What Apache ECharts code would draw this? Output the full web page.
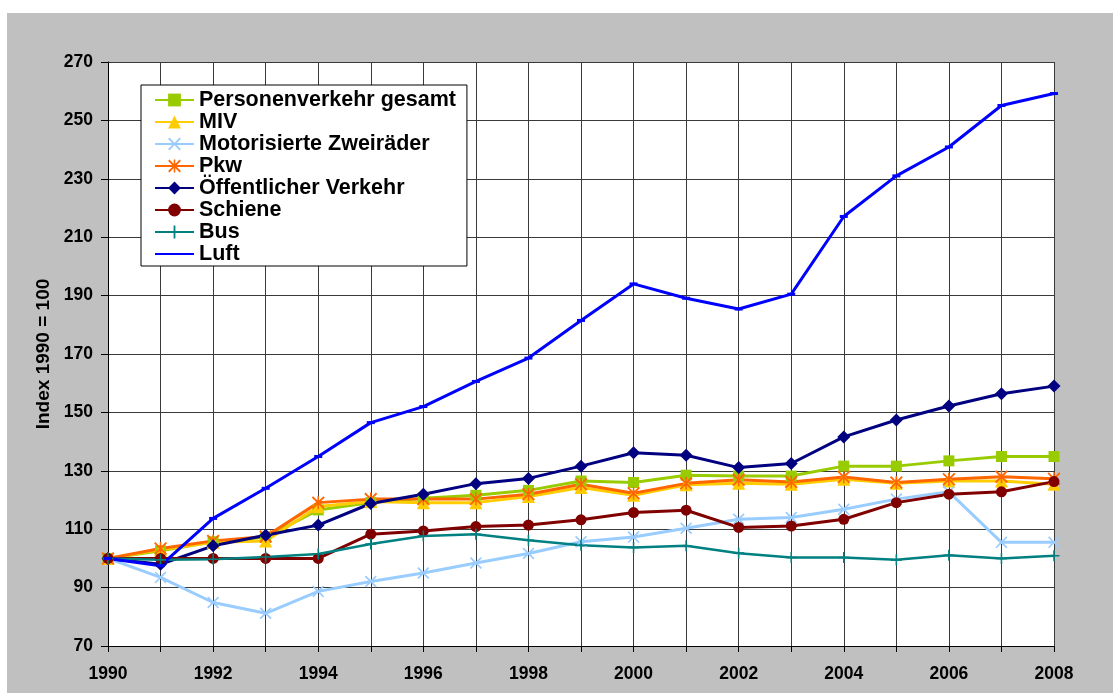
<!DOCTYPE html>
<html>
<head>
<meta charset="utf-8">
<script src="https://cdn.jsdelivr.net/npm/echarts@6/dist/echarts.min.js"></script>
<style>
  html, body { margin: 0; padding: 0; background: #ffffff; }
  #frame { position: absolute; left: 7px; top: 13px; right: 0; bottom: 0; background: #c0c0c0; }
  #chart { position: absolute; left: 0; top: 0; width: 1113px; height: 693px; }
</style>
</head>
<body>
<div id="frame"></div>
<div id="chart"></div>
<script>
// Verkehrsleistung nach Verkehrsträgern, Index 1990 = 100
const years = ['1990','1991','1992','1993','1994','1995','1996','1997','1998','1999',
               '2000','2001','2002','2003','2004','2005','2006','2007','2008'];

const personenverkehrGesamt = [100, 102.6, 105.7, 107.2, 116.6, 119.1, 120.6, 121.6, 123.3, 126.5, 126.0, 128.5, 128.2, 128.2, 131.6, 131.6, 133.4, 134.9, 134.9];
const miv                  = [100, 103.0, 105.5, 106.0, 117.8, 119.5, 119.1, 119.1, 121.2, 124.3, 121.6, 125.2, 125.7, 125.4, 127.1, 125.7, 126.5, 126.5, 125.4];
const zweiraeder           = [100, 93.5, 84.9, 81.2, 88.7, 92.1, 95.0, 98.4, 101.7, 105.7, 107.3, 110.3, 113.4, 114.0, 116.8, 120.3, 122.8, 105.5, 105.5];
const pkw                  = [100, 103.4, 106.0, 107.5, 119.1, 120.3, 120.3, 120.3, 122.0, 125.4, 122.3, 125.7, 126.9, 126.2, 127.9, 126.0, 127.1, 128.0, 127.3];
const oeffentlich          = [100, 98.0, 104.3, 107.9, 111.4, 118.8, 122.0, 125.6, 127.4, 131.6, 136.2, 135.3, 131.1, 132.5, 141.6, 147.4, 152.2, 156.4, 159.0];
const schiene              = [100, 100, 100, 100, 100, 108.3, 109.4, 110.9, 111.4, 113.2, 115.7, 116.5, 110.6, 111.1, 113.4, 119.1, 122.0, 122.8, 126.3];
const bus                  = [100, 99.5, 99.7, 100.5, 101.5, 104.9, 107.7, 108.3, 106.2, 104.5, 103.7, 104.3, 101.8, 100.3, 100.3, 99.5, 101.1, 100.0, 100.9];
const luft                 = [100, 97.5, 113.7, 124.0, 134.9, 146.5, 152.0, 160.6, 168.6, 181.5, 194.0, 189.1, 185.4, 190.5, 217.1, 231.0, 240.9, 255.1, 259.2];

const yTicks = { min: 70, max: 270, step: 20 };

const FONT = '"Liberation Sans", Arial, sans-serif';

// marker shapes drawn as filled outlines
const SYM_X    = 'path://M0,1 L1,0 L5,4 L9,0 L10,1 L6,5 L10,9 L9,10 L5,6 L1,10 L0,9 L4,5 Z';
const SYM_STAR = 'path://M0,1 L1,0 L5,4 L9,0 L10,1 L6,5 L10,9 L9,10 L5,6 L1,10 L0,9 L4,5 Z M4.4,0 L5.6,0 L5.6,10 L4.4,10 Z';
const SYM_PLUS = 'path://M4.3,0 L5.7,0 L5.7,4.3 L10,4.3 L10,5.7 L5.7,5.7 L5.7,10 L4.3,10 L4.3,5.7 L0,5.7 L0,4.3 L4.3,4.3 Z';
const SYM_DASH = 'path://M0,0 L8,0 L8,3 L0,3 Z';

function line(name, data, color, symbol, size, width, extra) {
  return Object.assign({
    name: name,
    type: 'line',
    data: data,
    symbol: symbol,
    symbolSize: size,
    showAllSymbol: true,
    lineStyle: { color: color, width: width },
    itemStyle: { color: color, borderWidth: 0 },
    emphasis: { disabled: true }
  }, extra || {});
}

const seriesList = [
  line('Personenverkehr gesamt', personenverkehrGesamt, '#99CC00', 'rect', 11, 3),
  line('MIV', miv, '#FFCC00', 'triangle', 13, 3),
  line('Motorisierte Zweiräder', zweiraeder, '#99CCFF', SYM_X, 12, 3),
  line('Pkw', pkw, '#FF6600', SYM_STAR, 13, 3),
  line('Öffentlicher Verkehr', oeffentlich, '#000080', 'diamond', 13, 3),
  line('Schiene', schiene, '#800000', 'circle', 11, 3),
  line('Bus', bus, '#008080', SYM_PLUS, 11, 2.5),
  line('Luft', luft, '#0000FF', SYM_DASH, 8, 3, { symbolKeepAspect: true })
];

const legendText = { fontFamily: FONT, fontWeight: 'bold', fontSize: 21.5, lineHeight: 21.7, color: '#000' };

const chart = echarts.init(document.getElementById('chart'), null, { renderer: 'canvas' });
chart.setOption({
  animation: false,
  backgroundColor: 'transparent',
  textStyle: { fontFamily: FONT },
  grid: {
    left: 108, top: 62, right: 59, bottom: 47,
    show: true, backgroundColor: '#ffffff', borderWidth: 0
  },
  legend: {
    orient: 'vertical',
    left: 141, top: 85,
    padding: [4, 11, 1, 13],
    backgroundColor: '#ffffff',
    borderColor: '#000000',
    borderWidth: 1,
    itemWidth: 39,
    itemHeight: 16,
    itemGap: 0,
    data: seriesList.map(s => s.name === 'Luft'
      ? { name: s.name, itemStyle: { opacity: 0 } }
      : { name: s.name }),
    textStyle: legendText
  },
  xAxis: {
    type: 'category',
    data: years,
    boundaryGap: false,
    axisLine: { lineStyle: { color: '#000', width: 1 } },
    axisTick: { show: true, interval: 0, length: 6, lineStyle: { color: '#000' } },
    axisLabel: { interval: 1, margin: 19, fontWeight: 'bold', fontSize: 17.5, color: '#000', fontFamily: FONT },
    splitLine: { show: true, interval: 0, lineStyle: { color: '#3a3a3a', width: 1 } }
  },
  yAxis: {
    type: 'value',
    min: yTicks.min, max: yTicks.max, interval: yTicks.step,
    name: 'Index 1990 = 100',
    nameLocation: 'middle',
    nameGap: 55,
    nameRotate: 90,
    nameTextStyle: { fontWeight: 'bold', fontSize: 19, color: '#000', fontFamily: FONT },
    axisLine: { show: true, lineStyle: { color: '#000', width: 1 } },
    axisTick: { show: true, length: 7, lineStyle: { color: '#000' } },
    axisLabel: { margin: 15, fontWeight: 'bold', fontSize: 17.5, color: '#000', fontFamily: FONT },
    splitLine: { show: true, lineStyle: { color: '#3a3a3a', width: 1 } }
  },
  series: seriesList
});
</script>
</body>
</html>
